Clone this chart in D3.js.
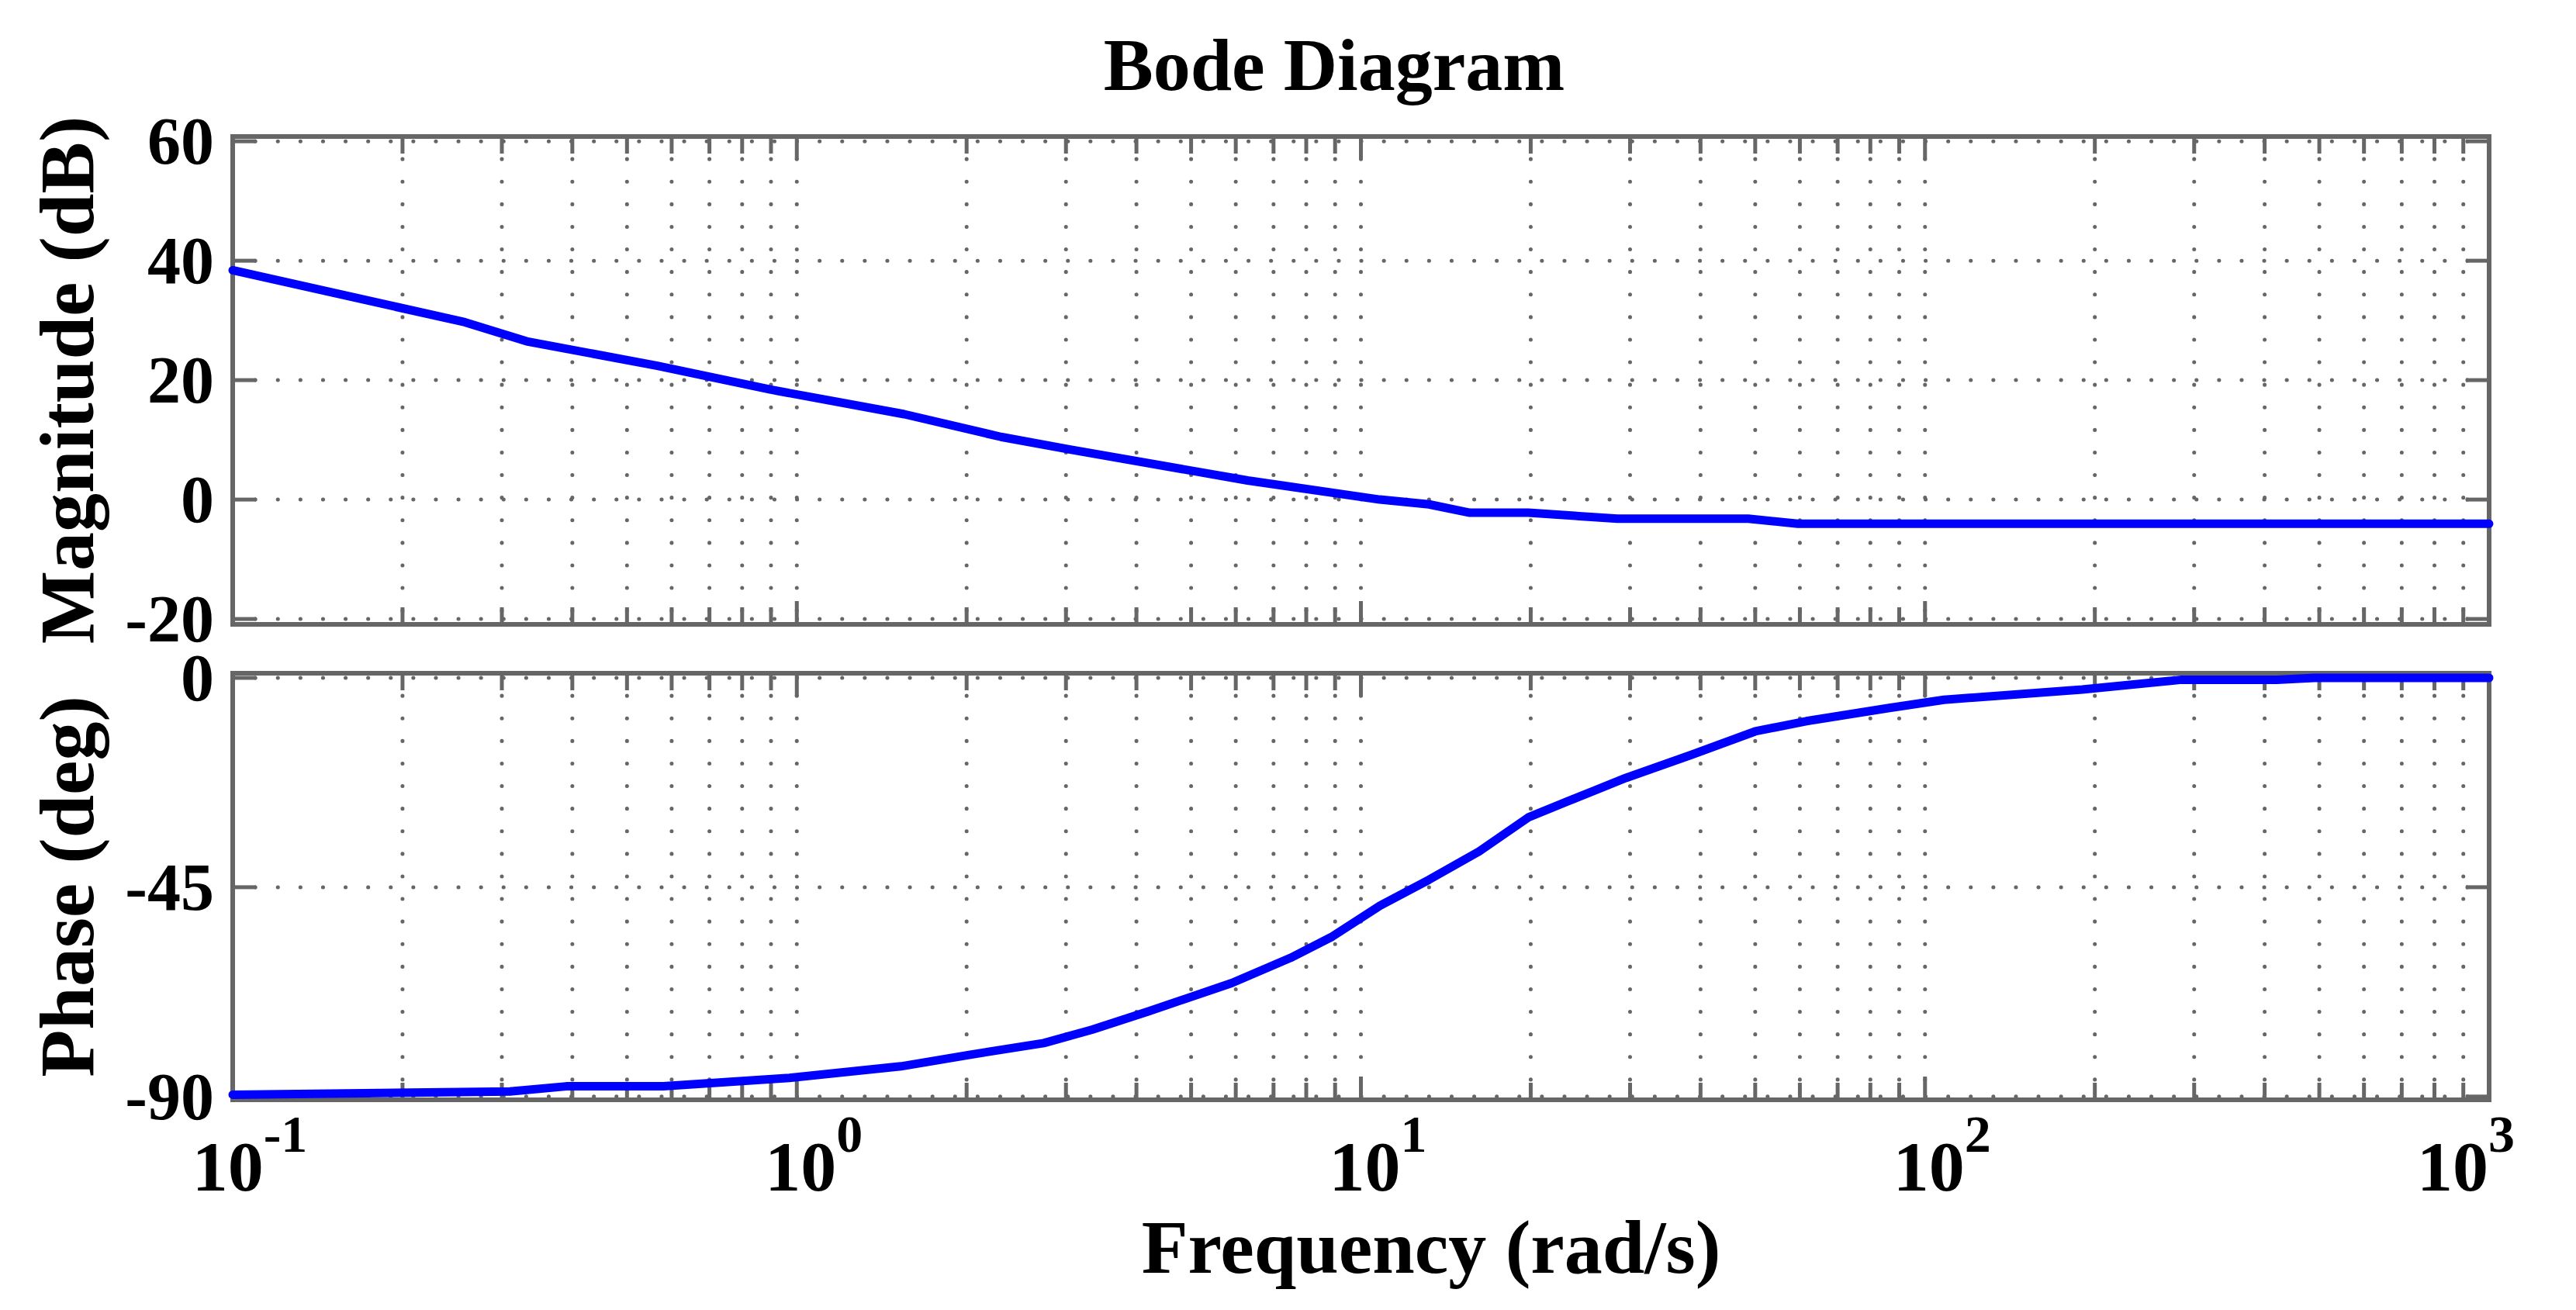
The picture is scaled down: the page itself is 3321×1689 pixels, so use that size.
<!DOCTYPE html>
<html><head><meta charset="utf-8">
<script src="https://cdn.jsdelivr.net/npm/d3@7"></script>
<style>body{margin:0;background:#fff}</style>
</head><body>
<svg id="c" width="3321" height="1689"></svg>
<script>
const magFreq = [0.1,0.258,0.332,0.566,0.9,1.55,2.3,3.04,6.3,10.8,13.2,15.6,19.8,28.5,48.6,59.5,1000];
const magDb   = [38.4,29.7,26.5,22.4,18.4,14.3,10.5,8.4,3.2,0,-0.8,-2.2,-2.2,-3.2,-3.2,-4.05,-4.05];
const phFreq = [0.1,0.31,0.39,0.58,0.97,1.53,2.03,2.74,3.34,4.2,5.9,7.5,8.9,10.8,13.2,16.2,19.8,23.3,29.5,38.6,50,61.6,86,108,190,285,420,490,1000];
const phDeg  = [-89.6,-88.9,-87.8,-87.8,-86,-83.5,-81,-78.5,-75.6,-71.7,-65.6,-60.2,-55.6,-49,-43.4,-37.3,-30,-26.5,-21.5,-16.5,-11.5,-9.3,-6.5,-4.7,-2.5,-0.4,-0.4,0,0];
const magTicks = [60,40,20,0,-20];
const phTicks = [0,-45,-90];
const decades = [-1,0,1,2,3];

const svg = d3.select("#c");
const font = "'Liberation Serif', 'DejaVu Serif', serif";
const gray = "#666";
const L = 300, R = 3209;
const x = d3.scaleLog().domain([0.1,1000]).range([L,R]);
const yM = d3.scaleLinear().domain([-20.9,60.8]).range([805,176]);
const yP = d3.scaleLinear().domain([-90.7,1]).range([1418,868]);
const minors = [];
for (let d=-1; d<3; d++) for (let k=2;k<10;k++) minors.push(k*Math.pow(10,d));
const majors = decades.map(d=>Math.pow(10,d));

function panel(y, ticks, freqs, vals) {
  const [b,t] = y.range();
  const g = svg.append("g");
  const dash = {stroke:gray,"stroke-width":5,"stroke-dasharray":"0.1,29","stroke-linecap":"round"};
  majors.concat(minors).forEach(f=>{
    const l = g.append("line").attr("x1",x(f)).attr("x2",x(f)).attr("y1",t).attr("y2",b);
    Object.entries(dash).forEach(([k,v])=>l.attr(k,v));
  });
  ticks.forEach(v=>{
    const l = g.append("line").attr("x1",L).attr("x2",R).attr("y1",y(v)).attr("y2",y(v));
    Object.entries(dash).forEach(([k,vv])=>l.attr(k,vv));
  });
  const tk = (x1,y1,x2,y2)=>g.append("line").attr("x1",x1).attr("y1",y1).attr("x2",x2).attr("y2",y2).attr("stroke",gray).attr("stroke-width",5);
  majors.forEach(f=>{tk(x(f),b,x(f),b-30);tk(x(f),t,x(f),t+30);});
  minors.forEach(f=>{tk(x(f),b,x(f),b-22);tk(x(f),t,x(f),t+22);});
  ticks.forEach(v=>{tk(L,y(v),L+30,y(v));tk(R,y(v),R-30,y(v));});
  g.append("rect").attr("x",L).attr("y",t).attr("width",R-L).attr("height",b-t)
    .attr("fill","none").attr("stroke",gray).attr("stroke-width",6);
  const line = d3.line().x(d=>x(d[0])).y(d=>y(d[1]));
  g.append("path").datum(freqs.map((f,i)=>[f,vals[i]])).attr("d",line)
    .attr("fill","none").attr("stroke","#0000ff").attr("stroke-width",11)
    .attr("stroke-linecap","round").attr("stroke-linejoin","round");
  ticks.forEach(v=>{
    g.append("text").attr("x",L-24).attr("y",y(v)+29).attr("text-anchor","end")
      .attr("font-family",font).attr("font-weight","bold").attr("font-size",86).text(v);
  });
}
panel(yM, magTicks, magFreq, magDb);
panel(yP, phTicks, phFreq, phDeg);

decades.forEach(d=>{
  const t = svg.append("text").attr("x",x(Math.pow(10,d))+(d===3?-30:22)).attr("y",1535)
    .attr("font-family",font).attr("font-weight","bold").attr("font-size",92).attr("text-anchor","middle");
  t.append("tspan").text("10");
  t.append("tspan").attr("dy",-50).attr("font-size",68).text(d);
});

const txt = (xx,yy,s,size,rot)=>{
  const t = svg.append("text").attr("x",xx).attr("y",yy).attr("text-anchor","middle")
    .attr("font-family",font).attr("font-weight","bold").attr("font-size",size).text(s);
  if (rot) t.attr("transform",`rotate(-90,${xx},${yy})`);
};
txt(1720,116,"Bode Diagram",96);
txt(120,490,"Magnitude (dB)",100,true);
txt(120,1143,"Phase (deg)",100,true);
txt(1845,1641,"Frequency  (rad/s)",98);
</script>
</body></html>
